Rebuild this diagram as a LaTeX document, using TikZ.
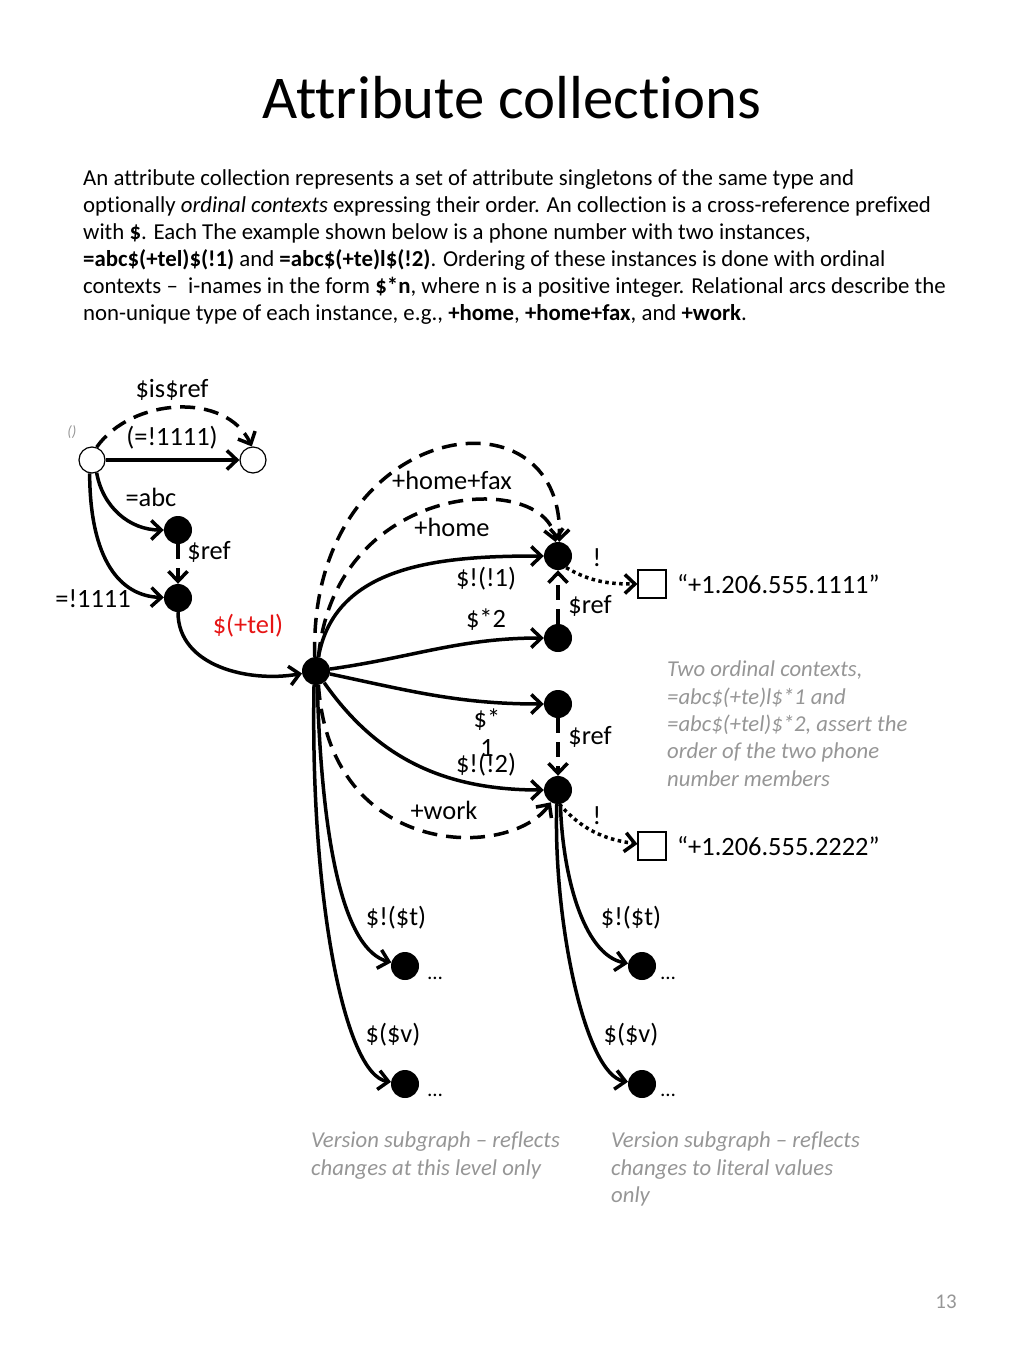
\documentclass[tikz,border=0pt]{standalone}
\usepackage{fontspec}
\setmainfont{Carlito}[Ligatures={NoCommon}]
\usetikzlibrary{arrows.meta,positioning}
\definecolor{notegray}{RGB}{150,150,150}
\definecolor{telred}{RGB}{230,20,20}
\tikzset{
  opennode/.style={circle,draw,fill=white,line width=1.2pt,minimum size=26bp,inner sep=0pt},
  fullnode/.style={circle,fill=black,minimum size=28bp,inner sep=0pt},
  litbox/.style={rectangle,draw,fill=white,line width=1.2pt,minimum size=28bp,inner sep=0pt},
  arc/.style={line width=3.5bp,-{Straight Barb[length=10bp,width=19bp,line width=3.5bp]}},
  dasharc/.style={arc,dash pattern=on 15bp off 9bp},
  dotarc/.style={arc,dash pattern=on 3.5bp off 3.5bp},
  lbl/.style={inner sep=0pt,font=\fontsize{26.5}{30}\selectfont},
  note/.style={inner sep=0pt,align=left,text=notegray,font=\fontsize{22.8}{27.4}\selectfont\itshape},
}
\begin{document}
\begin{tikzpicture}[x=1bp,y=1bp]
    \useasboundingbox (0,0) rectangle (1024,-1365);
    % title and text
    \node[inner sep=0pt,font=\fontsize{61}{66}\selectfont] (title) at (512,-98) {Attribute collections};
    \node[inner sep=0pt,align=left,anchor=north west,font=\fontsize{22.9}{27.2}\selectfont] (intro) at (83,-169)
      {An attribute collection represents a set of attribute singletons of the same type and\\
       optionally \textit{ordinal contexts} expressing their order. An collection is a cross-reference prefixed\\
       with \textbf{\$}. Each The example shown below is a phone number with two instances,\\
       \textbf{=abc\$(+tel)\$(!1)} and \textbf{=abc\$(+te)l\$(!2)}. Ordering of these instances is done with ordinal\\
       contexts --\ \ i-names in the form \textbf{\$*n}, where n is a positive integer. Relational arcs describe the\\
       non-unique type of each instance, e.g., \textbf{+home}, \textbf{+home+fax}, and \textbf{+work}.};
    % nodes
    \node[opennode] (root) at (92,-460) {};
    \node[opennode] (tgt) at (253,-460) {};
    \node[fullnode] (abc) at (178,-530) {};
    \node[fullnode] (id) at (178,-598) {};
    \node[fullnode] (tel) at (316,-671) {};
    \node[fullnode] (one) at (558,-556) {};
    \node[fullnode] (two) at (558,-638) {};
    \node[fullnode] (ordone) at (558,-704) {};
    \node[fullnode] (inst) at (558,-790) {};
    \node[litbox] (lita) at (652,-584) {};
    \node[litbox] (litb) at (652,-846) {};
    \node[fullnode] (ta) at (405,-966) {};
    \node[fullnode] (va) at (405,-1084) {};
    \node[fullnode] (tb) at (642,-966) {};
    \node[fullnode] (vb) at (642,-1084) {};
    % arcs
    \draw[arc] (root) -- (tgt);
    \draw[dasharc] (root.70) to[out=55,in=115] (tgt.95);
    \draw[arc] (root.-70) to[out=-80,in=180] (abc);
    \draw[arc] (root.-100) .. controls (90,-560) and (120,-596) .. (id);
    \draw[dasharc] (abc) -- (id);
    \draw[arc] (id) to[out=-90,in=190] (tel);
    \draw[arc] (tel) to[out=80,in=180] (one);
    \draw[arc] (tel) to[out=8,in=180] (two);
    \draw[arc] (tel) to[out=-12,in=180] (ordone);
    \draw[arc] (tel) to[out=-55,in=180] (inst);
    \draw[dasharc] (tel.80) .. controls (335,-480) and (545,-470) .. (one.100);
    \draw[dasharc] (tel.95) .. controls (308,-420) and (565,-380) .. (one.85);
    \draw[dasharc] (tel.-80) .. controls (330,-860) and (510,-860) .. (inst.-120);
    \draw[dasharc] (two) -- (one);
    \draw[dasharc] (ordone) -- (inst);
    \draw[dotarc] (one.-55) to[out=-30,in=180] (lita);
    \draw[dotarc] (inst.-85) to[out=-48,in=172] (litb);
    \draw[arc] (tel.-85) .. controls (322,-850) and (345,-950) .. (ta);
    \draw[arc] (tel.-98) .. controls (310,-900) and (345,-1075) .. (va);
    \draw[arc] (inst.-80) .. controls (562,-870) and (582,-955) .. (tb);
    \draw[arc] (inst.-95) .. controls (553,-920) and (585,-1075) .. (vb);
    % labels
    \node[lbl] (lisref) at (172,-390) {\$is\$ref};
    \node[lbl] (lid) at (172,-438) {(=!1111)};
    \node[inner sep=0pt,text=notegray,font=\fontsize{15}{16}\selectfont\itshape] (lempty) at (72,-432) {()};
    \node[lbl] (labc) at (151,-497) {=abc};
    \node[lbl] (lref) at (209,-552) {\$ref};
    \node[lbl] (lbang) at (93,-599) {=!1111};
    \node[lbl,text=telred] (ltel) at (248,-626) {\$(+tel)};
    \node[lbl] (lfax) at (452,-480) {+home+fax};
    \node[lbl] (lhome) at (452,-527) {+home};
    \node[lbl] (lexa) at (597,-558) {!};
    \node[lbl] (lone) at (486,-579) {\$!(!1)};
    \node[lbl,anchor=west] (lvala) at (677,-584) {“+1.206.555.1111”};
    \node[lbl] (lrefa) at (590,-606) {\$ref};
    \node[lbl] (ltwo) at (486,-620) {\$*2};
    \node[lbl] (lstar) at (487,-720) {\$*};
    \node[lbl] (lstarn) at (487,-748) {1};
    \node[lbl] (lrefb) at (590,-737) {\$ref};
    \node[lbl] (linst) at (486,-765) {\$!(!2)};
    \node[lbl] (lwork) at (444,-810) {+work};
    \node[lbl] (lexb) at (597,-816) {!};
    \node[lbl,anchor=west] (lvalb) at (677,-846) {“+1.206.555.2222”};
    \node[lbl] (lta) at (396,-918) {\$!(\$t)};
    \node[lbl] (lva) at (393,-1035) {\$(\$v)};
    \node[lbl] (ltb) at (631,-918) {\$!(\$t)};
    \node[lbl] (lvb) at (631,-1035) {\$(\$v)};
    \node[inner sep=0pt,font=\fontsize{21}{24}\selectfont] (dta) at (435,-978) {…};
    \node[inner sep=0pt,font=\fontsize{21}{24}\selectfont] (dva) at (435,-1095) {…};
    \node[inner sep=0pt,font=\fontsize{21}{24}\selectfont] (dtb) at (668,-978) {…};
    \node[inner sep=0pt,font=\fontsize{21}{24}\selectfont] (dvb) at (668,-1095) {…};
    % notes
    \node[note,anchor=north west] (nord) at (667,-661)
      {Two ordinal contexts,\\ =abc\$(+te)l\$*1 and\\ =abc\$(+tel)\$*2, assert the\\ order of the two phone\\ number members};
    \node[note,anchor=north west] (nlevel) at (311,-1132)
      {Version subgraph -- reflects\\ changes at this level only};
    \node[note,anchor=north west] (nlit) at (611,-1132)
      {Version subgraph -- reflects\\ changes to literal values\\ only};
    \node[inner sep=0pt,text=notegray,font=\fontsize{21}{24}\selectfont] (page) at (946,-1302) {13};
\end{tikzpicture}
\end{document}
